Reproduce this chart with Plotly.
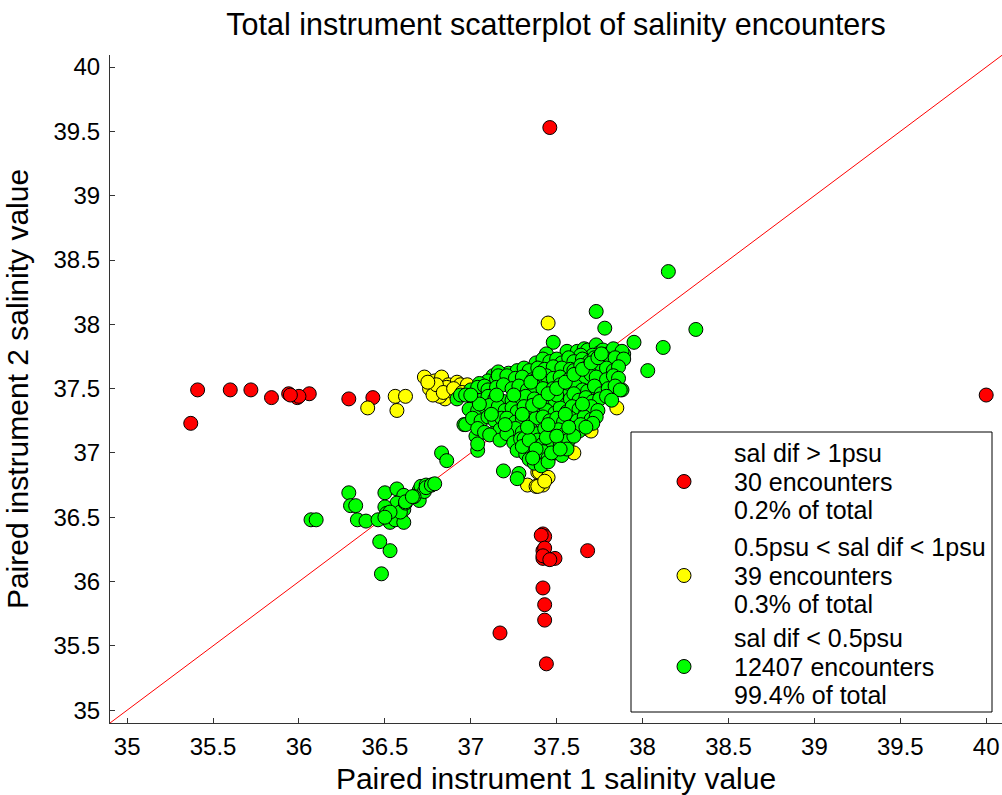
import plotly.graph_objects as go

# ---------------- data ----------------
red_x = [35.37, 35.41, 35.60, 35.72, 35.84, 35.94, 35.99, 36.06, 36.29, 36.43,
         40.00, 37.46, 37.42, 37.43, 37.42, 37.42, 37.45, 37.49, 37.68, 37.42,
         37.43, 37.43, 37.17, 37.44, 37.41, 37.43, 37.42, 37.46, 36.00, 35.95]
red_y = [37.23, 37.49, 37.49, 37.49, 37.43, 37.46, 37.43, 37.46, 37.42, 37.43,
         37.45, 39.53, 36.37, 36.35, 36.24, 36.18, 36.18, 36.18, 36.24, 35.95,
         35.82, 35.70, 35.60, 35.36, 36.36, 36.26, 36.20, 36.17, 37.44, 37.45]

yellow_x = [36.40, 36.56, 36.62, 36.57, 36.73, 36.79, 36.83, 36.77, 36.80, 36.85,
            36.82, 36.87, 36.92, 36.94, 36.76, 36.78, 36.86, 36.98, 36.80, 36.89,
            36.84, 37.45, 37.85, 37.69, 37.70, 37.56, 37.56, 37.39, 37.40, 37.33,
            37.38, 37.42, 37.45, 37.39, 36.75, 36.90, 37.43, 37.60, 36.95]
yellow_y = [37.35, 37.44, 37.44, 37.33, 37.59, 37.56, 37.59, 37.50, 37.46, 37.42,
            37.44, 37.53, 37.55, 37.53, 37.50, 37.45, 37.51, 37.53, 37.53, 37.48,
            37.47, 38.01, 37.35, 37.18, 37.17, 37.03, 37.05, 36.85, 36.85, 36.75,
            36.74, 36.75, 36.81, 36.74, 37.55, 37.50, 36.78, 37.00, 37.47]

green_x = [
    # outliers
    38.15, 38.31, 37.95, 38.12, 38.03, 37.89, 37.88, 37.73, 37.78, 37.48, 37.44,
    36.96, 37.03, 37.04, 37.04, 36.83, 36.86, 37.19, 37.28, 37.27,
    # lower-left cluster
    36.29, 36.30, 36.33, 36.07, 36.10, 36.34, 36.39, 36.46, 36.50, 36.57, 36.61,
    36.57, 36.50, 36.51, 36.53, 36.56, 36.61, 36.61, 36.70, 36.71, 36.74, 36.77,
    36.70, 36.73, 36.67, 36.47, 36.53, 36.48, 36.59, 36.62, 36.53, 36.62, 36.66,
    36.74, 36.77, 36.79, 36.50,
    # main cluster, row ~37.80
    37.56, 37.62, 37.66, 37.68, 37.73, 37.75, 37.77, 37.80, 37.83, 37.88, 37.71, 37.64,
    # row ~37.72
    37.38, 37.42, 37.46, 37.50, 37.53, 37.57, 37.60, 37.65, 37.69, 37.72, 37.76,
    37.80, 37.84, 37.89,
    # row ~37.65
    37.22, 37.27, 37.31, 37.34, 37.39, 37.43, 37.48, 37.53, 37.58, 37.60, 37.64,
    37.68, 37.72, 37.75, 37.79, 37.83, 37.86, 37.13, 37.16,
    # row ~37.58
    37.10, 37.15, 37.16, 37.21, 37.26, 37.30, 37.36, 37.38, 37.44, 37.48, 37.52,
    37.57, 37.62, 37.66, 37.70, 37.73, 37.79, 37.83, 37.86, 37.05,
    # row ~37.50
    37.00, 37.04, 37.08, 37.10, 37.15, 37.19, 37.24, 37.28, 37.33, 37.37, 37.42,
    37.48, 37.52, 37.56, 37.61, 37.65, 37.68, 37.72, 37.76, 37.80, 37.84, 37.87,
    # row ~37.42
    36.92, 36.94, 36.97, 37.02, 37.06, 37.10, 37.14, 37.19, 37.24, 37.28, 37.32,
    37.37, 37.41, 37.45, 37.49, 37.54, 37.58, 37.60, 37.63, 37.67, 37.71, 37.75,
    37.79, 37.82,
    # row ~37.34
    36.99, 37.04, 37.08, 37.11, 37.16, 37.20, 37.24, 37.27, 37.31, 37.36, 37.40,
    37.44, 37.49, 37.52, 37.56, 37.59, 37.63, 37.67, 37.70, 37.74,
    # row ~37.26
    36.97, 37.01, 37.06, 37.10, 37.14, 37.18, 37.21, 37.26, 37.30, 37.34, 37.38,
    37.42, 37.46, 37.50, 37.54, 37.58, 37.62, 37.66, 37.70, 37.73, 37.71,
    # row ~37.17
    37.04, 37.08, 37.13, 37.17, 37.22, 37.26, 37.30, 37.35, 37.39, 37.43, 37.47,
    37.51, 37.55, 37.59, 37.63, 37.64, 37.67,
    # row ~37.08
    37.11, 37.17, 37.21, 37.25, 37.29, 37.31, 37.35, 37.39, 37.42, 37.46, 37.48,
    37.52, 37.55, 37.57, 37.60,
    # row ~36.98
    37.27, 37.32, 37.37, 37.40, 37.42, 37.45, 37.49, 37.53, 37.56, 37.34, 37.37,
    37.41, 37.45,
    # extra fill
    37.30, 37.34, 37.38, 37.44, 37.50, 37.36, 37.47, 37.52, 37.20, 37.12, 37.05,
    37.00, 37.33, 37.45, 37.55, 37.65, 37.35, 37.25, 37.15, 37.40, 37.50, 37.57,
    # along the 1:1 line
    37.30, 37.36, 37.40, 37.45, 37.50, 37.55, 37.60, 37.65, 37.70, 37.74, 37.76,
]
green_y = [
    38.41, 37.96, 37.86, 37.82, 37.64, 37.77, 37.49, 38.10, 37.97, 37.86, 37.77,
    37.22, 37.13, 37.02, 37.07, 37.00, 36.94, 36.86, 36.84, 36.80,
    36.69, 36.59, 36.59, 36.48, 36.48, 36.48, 36.47, 36.48, 36.69, 36.72, 36.67,
    36.61, 36.58, 36.53, 36.46, 36.48, 36.56, 36.46, 36.71, 36.74, 36.75, 36.75,
    36.63, 36.70, 36.66, 36.31, 36.24, 36.06, 36.54, 36.61, 36.54, 36.62, 36.66,
    36.73, 36.75, 36.76, 36.50,
    37.79, 37.79, 37.81, 37.80, 37.84, 37.78, 37.80, 37.77, 37.81, 37.79, 37.76, 37.76,
    37.70, 37.73, 37.71, 37.73, 37.70, 37.74, 37.71, 37.73, 37.71, 37.74, 37.72,
    37.73, 37.74, 37.73,
    37.62, 37.64, 37.66, 37.64, 37.66, 37.65, 37.67, 37.66, 37.65, 37.64, 37.68,
    37.67, 37.65, 37.68, 37.66, 37.64, 37.67, 37.60, 37.63,
    37.56, 37.57, 37.60, 37.60, 37.58, 37.59, 37.57, 37.57, 37.60, 37.58, 37.59,
    37.57, 37.60, 37.58, 37.61, 37.59, 37.57, 37.60, 37.58, 37.54,
    37.49, 37.51, 37.52, 37.49, 37.51, 37.53, 37.50, 37.52, 37.49, 37.52, 37.50,
    37.50, 37.53, 37.50, 37.52, 37.49, 37.48, 37.52, 37.46, 37.50, 37.52, 37.49,
    37.42, 37.45, 37.45, 37.42, 37.41, 37.44, 37.42, 37.40, 37.41, 37.43, 37.44,
    37.42, 37.40, 37.43, 37.41, 37.44, 37.42, 37.46, 37.41, 37.43, 37.40, 37.42,
    37.44, 37.41,
    37.34, 37.33, 37.36, 37.37, 37.36, 37.33, 37.35, 37.32, 37.36, 37.31, 37.35,
    37.33, 37.31, 37.35, 37.32, 37.36, 37.34, 37.32, 37.36, 37.33,
    37.22, 37.27, 37.25, 37.28, 37.25, 37.27, 37.27, 37.24, 37.27, 37.25, 37.27,
    37.28, 37.25, 37.27, 37.24, 37.27, 37.25, 37.28, 37.26, 37.28, 37.23,
    37.19, 37.16, 37.15, 37.18, 37.16, 37.19, 37.16, 37.18, 37.15, 37.19, 37.16,
    37.18, 37.15, 37.19, 37.17, 37.22, 37.20,
    37.14, 37.10, 37.15, 37.08, 37.11, 37.11, 37.05, 37.10, 37.07, 37.09, 37.05,
    37.08, 37.12, 37.10, 37.13,
    37.02, 36.99, 36.98, 36.93, 37.01, 36.96, 37.00, 36.98, 37.03, 36.95, 36.92,
    36.90, 36.93,
    37.05, 37.10, 37.03, 37.12, 37.13, 36.96, 37.00, 37.03, 37.22, 37.30, 37.38,
    37.45, 37.20, 37.22, 37.30, 37.38, 37.55, 37.45, 37.45, 37.62, 37.45, 37.20,
    37.30, 37.37, 37.40, 37.46, 37.50, 37.55, 37.61, 37.65, 37.70, 37.74, 37.77,
]

identity = [34.9, 40.1]

x_ticks = [35, 35.5, 36, 36.5, 37, 37.5, 38, 38.5, 39, 39.5, 40]
x_tick_text = ["35", "35.5", "36", "36.5", "37", "37.5", "38", "38.5", "39", "39.5", "40"]
y_ticks = [35, 35.5, 36, 36.5, 37, 37.5, 38, 38.5, 39, 39.5, 40]
y_tick_text = ["35", "35.5", "36", "36.5", "37", "37.5", "38", "38.5", "39", "39.5", "40"]

group_names = ["sal dif > 1psu", "0.5psu < sal dif < 1psu", "sal dif < 0.5psu"]
group_counts = ["30 encounters", "39 encounters", "12407 encounters"]
group_shares = ["0.2% of total", "0.3% of total", "99.4% of total"]
group_colors = ["#FF0000", "#FFFF00", "#00FF00"]

title_text = "Total instrument scatterplot of salinity encounters"
x_title = "Paired instrument 1 salinity value"
y_title = "Paired instrument 2 salinity value"

# ---------------- figure ----------------
W, H = 1002, 795
ML, MR, MT, MB = 110, 0, 55, 72
PW, PH = W - ML - MR, H - MT - MB
FONT = "Liberation Sans, Arial, sans-serif"


def px_to_paper(px, py):
    return (px - ML) / PW, (H - MB - py) / PH


fig = go.Figure()

fig.add_trace(go.Scatter(
    x=identity, y=identity, mode="lines",
    line=dict(color="#FF0000", width=1), showlegend=False, hoverinfo="skip"))

series = [(red_x, red_y), (yellow_x, yellow_y), (green_x, green_y)]
for (sx, sy), name, col in zip(series, group_names, group_colors):
    fig.add_trace(go.Scatter(
        x=sx, y=sy, mode="markers", name=name, showlegend=False,
        marker=dict(size=14, color=col, line=dict(color="black", width=1))))

# manual legend (MATLAB style with tight line spacing)
shapes = []
bx0, by0 = px_to_paper(631, 712)
bx1, by1 = px_to_paper(992, 432)
shapes.append(dict(type="rect", xref="paper", yref="paper", x0=bx0, y0=by0, x1=bx1, y1=by1,
                   line=dict(color="black", width=1), fillcolor="white", layer="above"))
annotations = []
entry_top = [453, 547, 638]
line_gap = 28.5
for i in range(3):
    lines = [group_names[i], group_counts[i], group_shares[i]]
    for j, t in enumerate(lines):
        ax_, ay_ = px_to_paper(732, entry_top[i] + j * line_gap)
        annotations.append(dict(text=t, xref="paper", yref="paper", x=ax_, y=ay_,
                                xanchor="left", yanchor="middle", showarrow=False,
                                font=dict(family=FONT, size=25, color="black")))
    mx, my = px_to_paper(684, entry_top[i] + line_gap)
    shapes.append(dict(type="circle", xref="paper", yref="paper",
                       xsizemode="pixel", ysizemode="pixel", xanchor=mx, yanchor=my,
                       x0=-7, x1=7, y0=-7, y1=7, fillcolor=group_colors[i],
                       line=dict(color="black", width=1), layer="above"))

axis_common = dict(showline=True, linecolor="#333333", linewidth=1, mirror=False,
                   ticks="inside", ticklen=5, tickwidth=1, tickcolor="#333333",
                   showgrid=False, zeroline=False,
                   tickfont=dict(family=FONT, size=24, color="black"))

fig.update_layout(
    width=W, height=H,
    margin=dict(l=ML, r=MR, t=MT, b=MB, autoexpand=False),
    paper_bgcolor="white", plot_bgcolor="white",
    font=dict(family=FONT, color="black"),
    title=dict(text=title_text, x=0.5, xref="paper", xanchor="center",
               y=1 - 24 / H, yref="container", yanchor="middle",
               font=dict(family=FONT, size=30.5, color="black")),
    xaxis=dict(range=[34.9, 40.092], tickvals=x_ticks, ticktext=x_tick_text,
               title=dict(text=x_title, font=dict(family=FONT, size=30, color="black")),
               automargin=False, ticklabelstandoff=2, **axis_common),
    yaxis=dict(range=[34.9, 40.094], tickvals=y_ticks, ticktext=y_tick_text,
               title=dict(text=y_title, font=dict(family=FONT, size=30, color="black")),
               automargin=False, ticklabelstandoff=4, **axis_common),
    shapes=shapes, annotations=annotations,
)

fig.write_html("out.html", config={"displayModeBar": False},
               post_script="document.body.style.margin='0';document.body.style.overflow='hidden';")
